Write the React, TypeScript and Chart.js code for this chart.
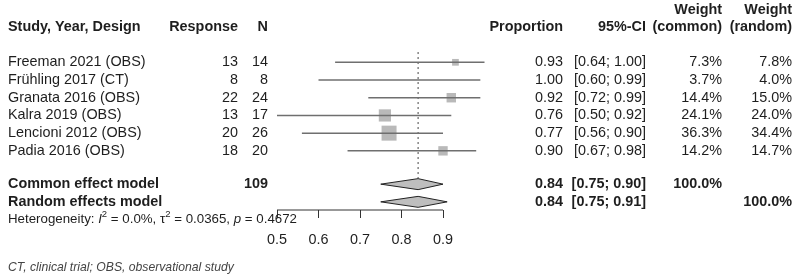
import React, { useEffect, useRef } from "react";
import { Chart, registerables } from "chart.js";

Chart.register(...registerables);

// ---- data ----
const studies = ["Freeman 2021 (OBS)", "Frühling 2017 (CT)", "Granata 2016 (OBS)", "Kalra 2019 (OBS)", "Lencioni 2012 (OBS)", "Padia 2016 (OBS)"];
const responses = [13, 8, 22, 13, 20, 18];
const totals = [14, 8, 24, 17, 26, 20];
const proportions = [0.93, 1.0, 0.92, 0.76, 0.77, 0.9];
const ciLower = [0.64, 0.6, 0.72, 0.5, 0.56, 0.67];
const ciUpper = [1.0, 0.99, 0.99, 0.92, 0.9, 0.98];
const weightCommon = [7.3, 3.7, 14.4, 24.1, 36.3, 14.2];
const weightRandom = [7.8, 4.0, 15.0, 24.0, 34.4, 14.7];
const summaryLabels = ["Common effect model", "Random effects model"];
const summaryEst = [0.84, 0.84];
const summaryLower = [0.75, 0.75];
const summaryUpper = [0.9, 0.91];
const totalN = 109;
const xTicks = [0.5, 0.6, 0.7, 0.8, 0.9];
const xLimUpper = 1.0;
const heterogeneity = { i2: "0.0%", tau2: "0.0365", p: "0.4672" };
const footnote = "CT, clinical trial; OBS, observational study";

// ---- layout (row positions on the y scale) ----
const studyRows = [1, 2, 3, 4, 5, 6];
const summaryRows = [7.88, 8.88];
const hetRow = 9.88;
const headerRow = -0.99;
const headerRow0 = -1.95;
const footRow = 12.6;
const Y_MAX = 9.34;

const TEXT = "#1e1e1e";
const FONT = '"Liberation Sans", Arial, sans-serif';
const REG = `14.4px ${FONT}`;
const BOLD = `bold 14.4px ${FONT}`;

const fmtPct = (v: number) => v.toFixed(1) + "%";
const fmt2 = (v: number) => v.toFixed(2);

const textPlugin = {
  id: "forestText",
  afterDraw(chart: any) {
    const ctx = chart.ctx as CanvasRenderingContext2D;
    const ys = chart.scales.y;
    const py = (v: number) => ys.getPixelForValue(v);
    ctx.save();
    ctx.textBaseline = "middle";
    ctx.fillStyle = TEXT;
    const put = (s: string, x: number, v: number, align: CanvasTextAlign, font: string) => {
      ctx.font = font;
      ctx.textAlign = align;
      ctx.fillText(s, x, py(v));
    };
    // headers
    put("Study, Year, Design", 8, headerRow, "left", BOLD);
    put("Response", 238, headerRow, "right", BOLD);
    put("N", 268, headerRow, "right", BOLD);
    put("Proportion", 563, headerRow, "right", BOLD);
    put("95%-CI", 646, headerRow, "right", BOLD);
    put("Weight", 722, headerRow0, "right", BOLD);
    put("(common)", 722, headerRow, "right", BOLD);
    put("Weight", 792, headerRow0, "right", BOLD);
    put("(random)", 792, headerRow, "right", BOLD);
    // study rows
    studies.forEach((s, i) => {
      const r = studyRows[i];
      put(s, 8, r, "left", REG);
      put(String(responses[i]), 238, r, "right", REG);
      put(String(totals[i]), 268, r, "right", REG);
      put(fmt2(proportions[i]), 563, r, "right", REG);
      put(`[${fmt2(ciLower[i])}; ${fmt2(ciUpper[i])}]`, 646, r, "right", REG);
      put(fmtPct(weightCommon[i]), 722, r, "right", REG);
      put(fmtPct(weightRandom[i]), 792, r, "right", REG);
    });
    // summary rows
    summaryLabels.forEach((s, i) => {
      const r = summaryRows[i];
      put(s, 8, r, "left", BOLD);
      put(fmt2(summaryEst[i]), 563, r, "right", BOLD);
      put(`[${fmt2(summaryLower[i])}; ${fmt2(summaryUpper[i])}]`, 646, r, "right", BOLD);
    });
    put(String(totalN), 268, summaryRows[0], "right", BOLD);
    put("100.0%", 722, summaryRows[0], "right", BOLD);
    put("100.0%", 792, summaryRows[1], "right", BOLD);
    // heterogeneity
    const hs = 13.3;
    const runs: [string, string, number][] = [
      ["Heterogeneity: ", `${hs}px ${FONT}`, 0],
      ["I", `italic ${hs}px ${FONT}`, 0],
      ["2", `9.5px ${FONT}`, -5],
      [` = ${heterogeneity.i2}, \u03c4`, `${hs}px ${FONT}`, 0],
      ["2", `9.5px ${FONT}`, -5],
      [` = ${heterogeneity.tau2}, `, `${hs}px ${FONT}`, 0],
      ["p", `italic ${hs}px ${FONT}`, 0],
      [` = ${heterogeneity.p}`, `${hs}px ${FONT}`, 0],
    ];
    let x = 8;
    ctx.textAlign = "left";
    const hy = py(hetRow);
    runs.forEach(([t, f, dy]) => {
      ctx.font = f;
      ctx.fillText(t, x, hy + dy);
      x += ctx.measureText(t).width;
    });
    // footnote
    ctx.fillStyle = "#444";
    put(footnote, 8, footRow, "left", `italic 12.2px ${FONT}`);
    ctx.restore();
  },
};

const sideFor = (w: number) => 15 * Math.sqrt(w / 36.3);

export default function App() {
  const ref = useRef<HTMLCanvasElement | null>(null);
  useEffect(() => {
    if (!ref.current) return;
    const datasets: any[] = [];
    // CI lines
    studies.forEach((s, i) => {
      datasets.push({
        label: s + " CI",
        data: [
          { x: ciLower[i], y: studyRows[i] },
          { x: ciUpper[i], y: studyRows[i] },
        ],
        borderColor: "#6f6f6f",
        borderWidth: 1.5,
        pointRadius: 0,
        showLine: true,
        clip: false,
      });
    });
    // boxes
    datasets.push({
      label: "boxes",
      data: studies.map((_, i) => ({ x: proportions[i], y: studyRows[i] })),
      showLine: false,
      pointStyle: "rect",
      pointRadius: studies.map((_, i) => (proportions[i] < xLimUpper ? sideFor(weightCommon[i]) / Math.SQRT2 : 0)),
      backgroundColor: "#b9b9b9",
      borderColor: "#b9b9b9",
      borderWidth: 0,
      clip: false,
    });
    // center dots
    datasets.push({
      label: "estimates",
      data: studies.map((_, i) => ({ x: proportions[i], y: studyRows[i] })),
      showLine: false,
      pointStyle: "circle",
      pointRadius: studies.map((_, i) => (proportions[i] < xLimUpper ? 1.2 : 0)),
      backgroundColor: "#333",
      borderWidth: 0,
      clip: false,
    });
    // dotted reference line at common estimate
    datasets.push({
      label: "common line",
      data: [
        { x: summaryEst[0], y: 0.42 },
        { x: summaryEst[0], y: summaryRows[0] - 0.31 },
      ],
      borderColor: "#444",
      borderWidth: 1,
      borderDash: [2, 3],
      pointRadius: 0,
      showLine: true,
      clip: false,
    });
    // diamonds
    summaryLabels.forEach((s, i) => {
      const r = summaryRows[i];
      const h = 0.31;
      datasets.push({
        label: s,
        data: [
          { x: summaryLower[i], y: r },
          { x: summaryEst[i], y: r - h },
          { x: summaryUpper[i], y: r },
          { x: summaryEst[i], y: r + h },
          { x: summaryLower[i], y: r },
        ],
        borderColor: "#222",
        borderWidth: 1,
        backgroundColor: "#bebebe",
        fill: "shape",
        pointRadius: 0,
        showLine: true,
        tension: 0,
        clip: false,
      });
    });
    // x axis line spanning the tick range
    datasets.push({
      label: "axis",
      data: [
        { x: xTicks[0], y: Y_MAX },
        { x: xTicks[xTicks.length - 1], y: Y_MAX },
      ],
      borderColor: "#333",
      borderWidth: 1,
      pointRadius: 0,
      showLine: true,
      clip: false,
    });

    const chart = new Chart(ref.current, {
      type: "line",
      data: { datasets },
      options: {
        animation: false,
        responsive: false,
        devicePixelRatio: 1,
        layout: { padding: { left: 277, right: 315.5, top: 44.6, bottom: 21 } },
        plugins: { legend: { display: false }, tooltip: { enabled: false } },
        scales: {
          x: {
            type: "linear",
            min: xTicks[0],
            max: xLimUpper,
            afterBuildTicks: (s: any) => {
              s.ticks = xTicks.map((v) => ({ value: v }));
            },
            afterFit: (s: any) => {
              s.height = 45;
            },
            grid: { drawOnChartArea: false, drawTicks: true, tickLength: 8, color: "#333", lineWidth: 1 },
            border: { display: false },
            ticks: {
              autoSkip: false,
              maxRotation: 0,
              padding: 13,
              color: TEXT,
              font: { family: FONT, size: 14.4 },
              callback: (v: any) => Number(v).toFixed(1),
            },
          },
          y: { type: "linear", reverse: true, min: 0, max: Y_MAX, display: false },
        },
      },
      plugins: [textPlugin],
    } as any);
    return () => chart.destroy();
  }, []);
  return (
    <div style={{ position: "absolute", left: 0, top: 0, width: 800, height: 276, background: "#fff" }}>
      <canvas ref={ref} width={800} height={276} />
    </div>
  );
}
